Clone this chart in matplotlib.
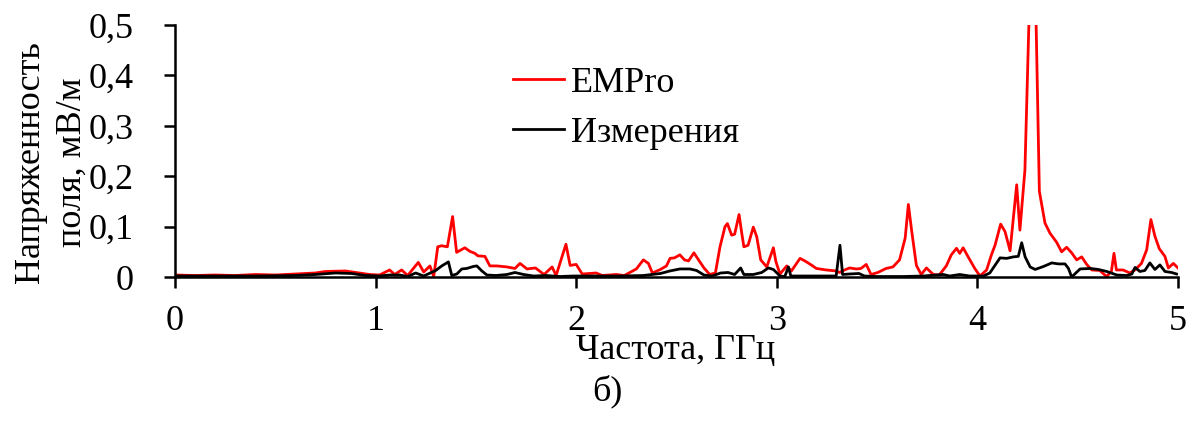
import matplotlib
matplotlib.use("Agg")
import matplotlib.pyplot as plt
from matplotlib.ticker import FuncFormatter

# ---- data ----
red_f = [0.00, 0.10, 0.20, 0.30, 0.40, 0.50, 0.60, 0.70, 0.75, 0.85, 0.92, 0.97, 1.02, 1.07, 1.095,
         1.13, 1.16, 1.213, 1.24, 1.271, 1.29, 1.31, 1.329, 1.358, 1.384, 1.404, 1.445, 1.47, 1.495,
         1.51, 1.545, 1.57, 1.605, 1.655, 1.695, 1.72, 1.755, 1.797, 1.84, 1.88, 1.90, 1.949, 1.97,
         2.00, 2.03, 2.10, 2.13, 2.20, 2.24, 2.30, 2.335, 2.36, 2.38, 2.42, 2.45, 2.468, 2.49, 2.517,
         2.54, 2.56, 2.587, 2.61, 2.637, 2.666, 2.694, 2.717, 2.742, 2.754, 2.775, 2.79, 2.812, 2.825,
         2.836, 2.857, 2.883, 2.90, 2.92, 2.95, 2.983, 2.996, 3.016, 3.05, 3.073, 3.116, 3.14, 3.172,
         3.197, 3.246, 3.296, 3.313, 3.338, 3.363, 3.396, 3.42, 3.446, 3.47, 3.504, 3.545, 3.579,
         3.612, 3.64, 3.656, 3.673, 3.696, 3.72, 3.746, 3.78, 3.81, 3.845, 3.87, 3.896, 3.912, 3.929,
         3.954, 3.987, 4.013, 4.046, 4.07, 4.088, 4.116, 4.138, 4.163, 4.196, 4.212, 4.237, 4.258,
         4.292, 4.309, 4.337, 4.362, 4.395, 4.42, 4.445, 4.47, 4.495, 4.52, 4.545, 4.57, 4.61, 4.644,
         4.668, 4.681, 4.693, 4.726, 4.76, 4.785, 4.818, 4.844, 4.865, 4.885, 4.907, 4.935, 4.952,
         4.977, 5.00]
red_v = [0.004, 0.003, 0.004, 0.003, 0.005, 0.004, 0.006, 0.008, 0.011, 0.012, 0.008, 0.005, 0.004,
         0.014, 0.005, 0.014, 0.003, 0.029, 0.010, 0.022, 0.001, 0.060, 0.062, 0.060, 0.120, 0.049,
         0.058, 0.051, 0.047, 0.042, 0.041, 0.022, 0.022, 0.020, 0.017, 0.027, 0.016, 0.018, 0.005,
         0.020, 0.003, 0.065, 0.023, 0.025, 0.006, 0.008, 0.003, 0.005, 0.003, 0.016, 0.034, 0.027,
         0.008, 0.015, 0.022, 0.037, 0.038, 0.044, 0.034, 0.032, 0.048, 0.034, 0.018, 0.005, 0.008,
         0.060, 0.100, 0.106, 0.083, 0.085, 0.124, 0.088, 0.060, 0.063, 0.099, 0.080, 0.034, 0.020,
         0.058, 0.030, 0.006, 0.022, 0.012, 0.037, 0.032, 0.024, 0.017, 0.014, 0.012, 0.009, 0.014,
         0.018, 0.016, 0.017, 0.025, 0.005, 0.009, 0.017, 0.020, 0.034, 0.077, 0.144, 0.090, 0.023,
         0.005, 0.018, 0.005, 0.004, 0.022, 0.044, 0.057, 0.047, 0.058, 0.040, 0.017, 0.002, 0.014,
         0.044, 0.063, 0.105, 0.090, 0.052, 0.183, 0.093, 0.212, 0.520, 0.520, 0.170, 0.107, 0.087,
         0.069, 0.050, 0.059, 0.048, 0.034, 0.040, 0.025, 0.014, 0.013, 0.001, 0.011, 0.047, 0.014,
         0.014, 0.008, 0.014, 0.027, 0.054, 0.114, 0.081, 0.056, 0.041, 0.018, 0.027, 0.018]

blk_f = [0.00, 0.20, 0.40, 0.60, 0.70, 0.80, 0.88, 0.95, 1.02, 1.07, 1.12, 1.16, 1.20, 1.24, 1.30,
         1.33, 1.363, 1.38, 1.405, 1.43, 1.455, 1.488, 1.505, 1.53, 1.555, 1.60, 1.655, 1.695, 1.738,
         1.788, 1.85, 1.92, 1.985, 2.085, 2.22, 2.335, 2.42, 2.467, 2.517, 2.567, 2.60, 2.637, 2.678,
         2.72, 2.757, 2.79, 2.82, 2.836, 2.883, 2.925, 2.958, 2.983, 3.016, 3.04, 3.058, 3.07, 3.136,
         3.22, 3.296, 3.315, 3.328, 3.363, 3.41, 3.437, 3.495, 3.63, 3.73, 3.83, 3.862, 3.912, 3.962,
         4.03, 4.062, 4.113, 4.146, 4.18, 4.204, 4.221, 4.238, 4.263, 4.288, 4.33, 4.371, 4.404,
         4.437, 4.454, 4.47, 4.512, 4.562, 4.603, 4.645, 4.695, 4.745, 4.77, 4.786, 4.81, 4.835,
         4.86, 4.885, 4.91, 4.935, 4.968, 4.993]
blk_v = [0.002, 0.002, 0.002, 0.003, 0.005, 0.008, 0.007, 0.003, 0.002, 0.004, 0.004, 0.001, 0.008,
         0.002, 0.013, 0.022, 0.030, 0.003, 0.006, 0.016, 0.017, 0.021, 0.022, 0.012, 0.004, 0.003,
         0.005, 0.009, 0.005, 0.002, 0.003, 0.001, 0.002, 0.002, 0.002, 0.003, 0.007, 0.012, 0.016,
         0.016, 0.013, 0.004, 0.002, 0.008, 0.009, 0.005, 0.018, 0.005, 0.005, 0.009, 0.018, 0.015,
         0.002, 0.001, 0.020, 0.002, 0.002, 0.002, 0.002, 0.063, 0.005, 0.006, 0.007, 0.002, 0.001,
         0.001, 0.002, 0.005, 0.002, 0.005, 0.002, 0.002, 0.008, 0.038, 0.037, 0.040, 0.041, 0.068,
         0.040, 0.020, 0.015, 0.021, 0.028, 0.026, 0.026, 0.017, 0.000, 0.016, 0.017, 0.015, 0.011,
         0.004, 0.003, 0.006, 0.019, 0.011, 0.013, 0.028, 0.015, 0.024, 0.011, 0.009, 0.006]

x_ticks = [0, 1, 2, 3, 4, 5]
y_ticks = [0, 0.1, 0.2, 0.3, 0.4, 0.5]
series_labels = ["EMPro", "Измерения"]
x_label = "Частота, ГГц"
y_label = "Напряженность\nполя, мВ/м"
caption = "б)"

plt.rcParams['font.family'] = ['Liberation Serif', 'DejaVu Serif']
FS = 26

fig = plt.figure(figsize=(11.87, 4.21), dpi=100)
ax = fig.add_axes([0.1474, 0.342, 0.845, 0.5986])

ax.plot(red_f, red_v, color='#ff0000', lw=2.0, label=series_labels[0])
ax.plot(blk_f, blk_v, color='black', lw=2.0, label=series_labels[1])

ax.set_xlim(0, 5)
ax.set_ylim(0, 0.5)
ax.set_xticks(x_ticks)
ax.set_yticks(y_ticks)
ax.yaxis.set_major_formatter(FuncFormatter(lambda v, p: ("%g" % round(v, 3)).replace('.', ',')))
ax.xaxis.set_major_formatter(FuncFormatter(lambda v, p: "%g" % v))

for s in ['top', 'right']:
    ax.spines[s].set_visible(False)
for s in ['left', 'bottom']:
    ax.spines[s].set_linewidth(1.8)
ax.tick_params(axis='both', direction='out', length=8, width=1.8, labelsize=FS)
ax.tick_params(axis='y', pad=22)
ax.tick_params(axis='x', pad=12)

leg = ax.legend(loc='upper left', bbox_to_anchor=(0.337, 0.835), frameon=False, fontsize=FS,
                handlelength=1.4, handletextpad=0.2, labelspacing=0.47, borderpad=0, borderaxespad=0)

fig.text(0.569, 0.167, x_label, ha='center', va='center', fontsize=FS)
fig.text(0.043, 0.615, y_label, ha='center', va='center', rotation=90, fontsize=FS,
         multialignment='center', linespacing=1.35)
fig.text(0.512, 0.07, caption, ha='center', va='center', fontsize=FS)

fig.savefig("out.png", dpi=100)
